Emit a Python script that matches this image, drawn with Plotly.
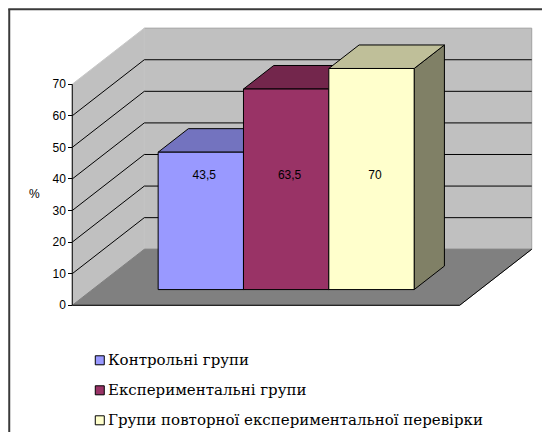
import plotly.graph_objects as go

# ---------------- data ----------------
categories = ["Контрольні групи", "Експериментальні групи",
              "Групи повторної експериментальної перевірки"]
values = [43.5, 63.5, 70]
value_labels = ["43,5", "63,5", "70"]
colors = ["#9999FF", "#993366", "#FFFFCC"]
y_ticks = [0, 10, 20, 30, 40, 50, 60, 70]
y_title = "%"

# ---------------- geometry (pseudo-3D projection) ----------------
OFF = 8                      # page body margin
W_FIG, H_FIG = 550 - OFF, 432 - OFF
PX_X = 85.3          # pixels per category unit
PX_Y = 3.157         # pixels per value unit
GAP = 0.77           # floor margin around bars (category units)
DX = 72 / PX_X       # depth shift in x units
DY = 56 / PX_Y       # depth shift in value units
D0, D1 = 0.28, 0.70  # bar front/back depth fraction
XL = -GAP
XR = len(values) + GAP
YTOP = y_ticks[-1]

xmin = XL - 0.05
xmax = XR + DX + 0.05
ymin = -1.5
ymax = YTOP + DY + 1.0
AXIS_PX_X, AXIS_PX_Y0 = 72 - OFF, 305 - OFF
l = AXIS_PX_X - (XL - xmin) * PX_X
plot_w = (xmax - xmin) * PX_X
r = W_FIG - l - plot_w
b = H_FIG - AXIS_PX_Y0 - (0 - ymin) * PX_Y
plot_h = (ymax - ymin) * PX_Y
t = H_FIG - b - plot_h


def P(x, v, d):
    return x + d * DX, v + d * DY


def poly(pts):
    xs, ys = [], []
    for p in pts + [pts[0]]:
        px, py = P(*p)
        xs.append(px)
        ys.append(py)
    return xs, ys


def shade(hexcol, f):
    h = hexcol.lstrip("#")
    rgb = [int(h[i:i + 2], 16) for i in (0, 2, 4)]
    return "#" + "".join(f"{int(round(c * f)):02X}" for c in rgb)


fig = go.Figure()


def add_poly(pts, fill, line="black", width=1):
    xs, ys = poly(pts)
    fig.add_trace(go.Scatter(x=xs, y=ys, mode="lines", fill="toself",
                             fillcolor=fill, line=dict(color=line, width=width),
                             hoverinfo="skip", showlegend=False))


# walls and floor
add_poly([(XL, 0, 1), (XR, 0, 1), (XR, YTOP, 1), (XL, YTOP, 1)], "#C0C0C0", "#A0A0A0")
add_poly([(XL, 0, 0), (XL, 0, 1), (XL, YTOP, 1), (XL, YTOP, 0)], "#C0C0C0", "#C8C8C8")
add_poly([(XL, 0, 0), (XR, 0, 0), (XR, 0, 1), (XL, 0, 1)], "#808080", "#808080")

# gridlines (left wall diagonals + back wall horizontals)
gx, gy = [], []
for v in y_ticks[1:-1]:
    for p in [(XL, v, 0), (XL, v, 1), (XR, v, 1)]:
        px, py = P(*p)
        gx.append(px)
        gy.append(py)
    gx.append(None)
    gy.append(None)
fig.add_trace(go.Scatter(x=gx, y=gy, mode="lines", line=dict(color="black", width=1),
                         hoverinfo="skip", showlegend=False))

# floor front edge, floor right edge, y-axis line
ex, ey = [], []
for seg in [[(XL, 0, 0), (XR, 0, 0), (XR, 0, 1)], [(XL, 0, 0), (XL, YTOP, 0)]]:
    for p in seg:
        px, py = P(*p)
        ex.append(px)
        ey.append(py)
    ex.append(None)
    ey.append(None)
fig.add_trace(go.Scatter(x=ex, y=ey, mode="lines", line=dict(color="black", width=1),
                         hoverinfo="skip", showlegend=False, cliponaxis=False))

# bars
for i, (v, c) in enumerate(zip(values, colors)):
    x0, x1 = i, i + 1
    add_poly([(x1, 0, D0), (x1, 0, D1), (x1, v, D1), (x1, v, D0)], shade(c, 0.5))
    add_poly([(x0, v, D0), (x1, v, D0), (x1, v, D1), (x0, v, D1)], shade(c, 0.75))
    add_poly([(x0, 0, D0), (x1, 0, D0), (x1, v, D0), (x0, v, D0)], c)

# value labels
LABEL_LEVEL = 36.0
lx = [P(i + 0.5, 0, D0)[0] + 0.04 for i in range(len(values))]
ly = [P(0, LABEL_LEVEL, D0)[1]] * len(values)
fig.add_trace(go.Scatter(x=lx, y=ly, mode="text", text=value_labels,
                         textfont=dict(family="Liberation Sans, Arial", size=12, color="black"),
                         hoverinfo="skip", showlegend=False))


def paper_x(px):
    return (px - OFF - l) / plot_w


def paper_y(py):
    return (H_FIG - (py - OFF) - b) / plot_h


shapes = []
annotations = []
# outer frame
shapes.append(dict(type="line", xref="paper", yref="paper",
                   x0=paper_x(8), x1=paper_x(570), y0=paper_y(9), y1=paper_y(9),
                   line=dict(color="#3A3A3A", width=2)))
shapes.append(dict(type="line", xref="paper", yref="paper",
                   x0=paper_x(9), x1=paper_x(9), y0=paper_y(9), y1=paper_y(450),
                   line=dict(color="#3A3A3A", width=2)))

# manual legend
row_y = [360, 390, 420]
for name, c, ry in zip(categories, colors, row_y):
    shapes.append(dict(type="rect", xref="paper", yref="paper",
                       x0=paper_x(95), x1=paper_x(104), y0=paper_y(ry - 4.5), y1=paper_y(ry + 4.5),
                       fillcolor=c, line=dict(color="black", width=1)))
    annotations.append(dict(text=name, xref="paper", yref="paper",
                            x=paper_x(106), y=paper_y(ry), xanchor="left", yanchor="middle",
                            showarrow=False,
                            font=dict(family="DejaVu Serif", size=15, color="black")))

# y-axis title
annotations.append(dict(text=y_title, xref="paper", yref="paper",
                        x=paper_x(34), y=paper_y(194), xanchor="center", yanchor="middle",
                        showarrow=False,
                        font=dict(family="Liberation Sans, Arial", size=12, color="black")))

fig.update_layout(
    width=W_FIG, height=H_FIG,
    margin=dict(l=l, r=r, t=t, b=b, pad=0),
    paper_bgcolor="white", plot_bgcolor="rgba(0,0,0,0)",
    template="none",
    showlegend=False,
    xaxis=dict(range=[xmin, xmax], visible=False, fixedrange=True),
    yaxis=dict(range=[ymin, ymax], anchor="free", position=(XL - xmin) / (xmax - xmin),
               tickvals=y_ticks, ticktext=[str(v) for v in y_ticks],
               ticks="outside", ticklen=4, tickcolor="black", tickwidth=1,
               showline=False, showgrid=False, zeroline=False, automargin=False,
               tickfont=dict(family="Liberation Sans, Arial", size=12, color="black"),
               fixedrange=True),
    shapes=shapes,
    annotations=annotations,
)

fig.write_html("out.html")
